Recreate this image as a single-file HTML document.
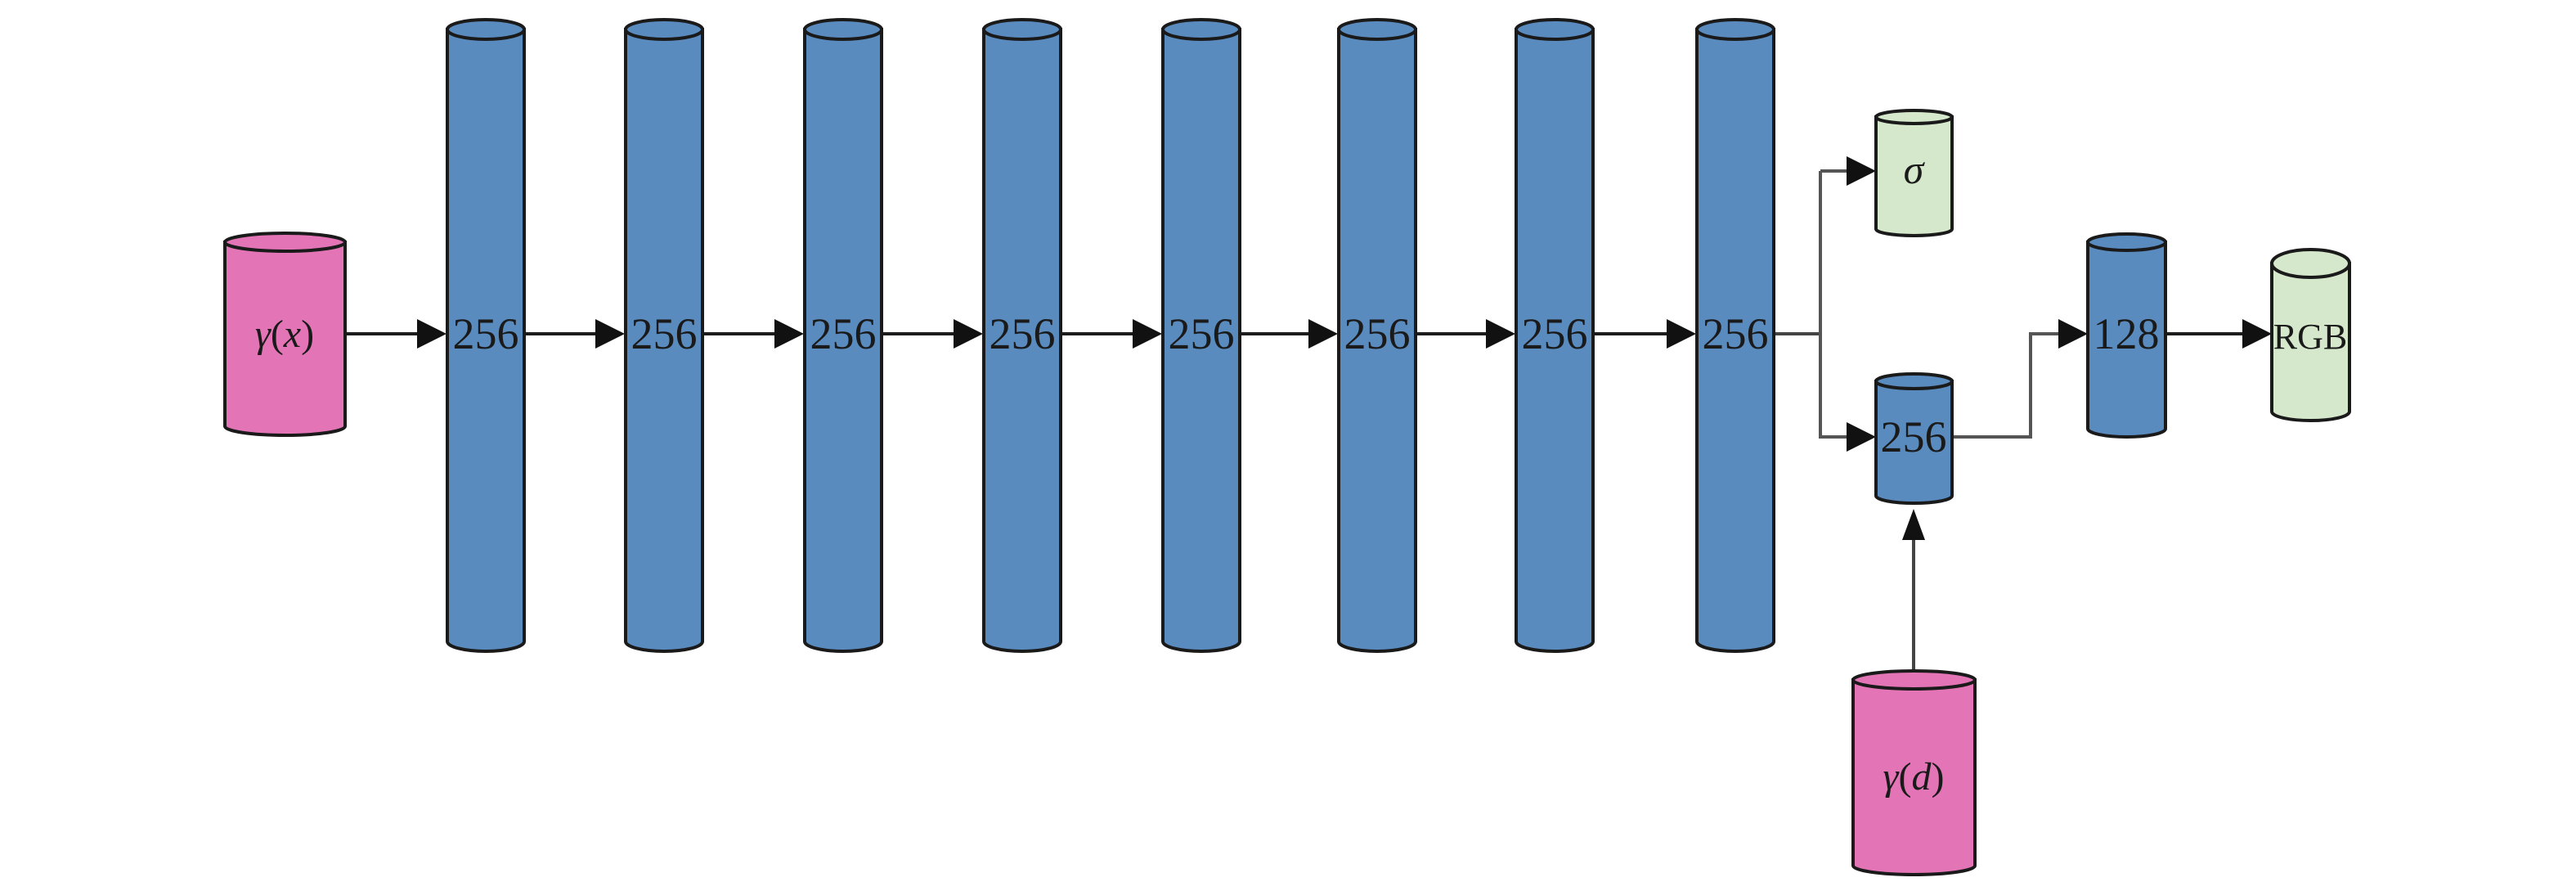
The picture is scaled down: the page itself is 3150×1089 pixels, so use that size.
<!DOCTYPE html>
<html><head><meta charset="utf-8"><style>
html,body{margin:0;padding:0;background:#fff;}
svg{display:block;}
text{font-family:"Liberation Serif",serif;fill:#1a1a1a;}
</style></head><body>
<svg width="3150" height="1089" viewBox="0 0 3150 1089" xmlns="http://www.w3.org/2000/svg">
<g stroke="#1c1c1c" stroke-width="4">
<line x1="422" y1="408" x2="510" y2="408"/>
<line x1="641" y1="408" x2="728" y2="408"/>
<line x1="859" y1="408" x2="947" y2="408"/>
<line x1="1078" y1="408" x2="1166" y2="408"/>
<line x1="1297" y1="408" x2="1385" y2="408"/>
<line x1="1516" y1="408" x2="1600" y2="408"/>
<line x1="1731" y1="408" x2="1817" y2="408"/>
<line x1="1948" y1="408" x2="2038" y2="408"/>
<polyline fill="none" stroke="#444" points="2169,408 2226,408"/>
<polyline fill="none" stroke="#555" points="2226,209 2226,534 2259,534"/>
<polyline fill="none" stroke="#555" points="2226,209 2259,209"/>
<polyline fill="none" stroke="#555" points="2387,534 2483,534 2483,408 2518,408"/>
<line x1="2648" y1="408" x2="2743" y2="408"/>
<line x1="2340" y1="820" x2="2340" y2="658" stroke="#444"/>
</g>
<g fill="#111">
<path d="M510,390 L546,408 L510,426 Z"/>
<path d="M728,390 L764,408 L728,426 Z"/>
<path d="M947,390 L983,408 L947,426 Z"/>
<path d="M1166,390 L1202,408 L1166,426 Z"/>
<path d="M1385,390 L1421,408 L1385,426 Z"/>
<path d="M1600,390 L1636,408 L1600,426 Z"/>
<path d="M1817,390 L1853,408 L1817,426 Z"/>
<path d="M2038,390 L2074,408 L2038,426 Z"/>
<path d="M2258,191 L2294,209 L2258,227 Z"/>
<path d="M2258,516 L2294,534 L2258,552 Z"/>
<path d="M2517,390 L2553,408 L2517,426 Z"/>
<path d="M2742,390 L2778,408 L2742,426 Z"/>
<path d="M2326,660 L2340,622 L2354,660 Z"/>
</g>
<g stroke="#1a1a1a" stroke-width="4">
<path d="M275,296 L275,521 A73.5,11 0 0 0 422,521 L422,296 Z" fill="#e375b6"/>
<ellipse cx="348.5" cy="296" rx="73.5" ry="11" fill="#e375b6"/>
<g fill="#5a8bbf">
<path d="M547,36 L547,784 A47,12 0 0 0 641,784 L641,36 Z"/><ellipse cx="594" cy="36" rx="47" ry="12"/>
<path d="M765,36 L765,784 A47,12 0 0 0 859,784 L859,36 Z"/><ellipse cx="812" cy="36" rx="47" ry="12"/>
<path d="M984,36 L984,784 A47,12 0 0 0 1078,784 L1078,36 Z"/><ellipse cx="1031" cy="36" rx="47" ry="12"/>
<path d="M1203,36 L1203,784 A47,12 0 0 0 1297,784 L1297,36 Z"/><ellipse cx="1250" cy="36" rx="47" ry="12"/>
<path d="M1422,36 L1422,784 A47,12 0 0 0 1516,784 L1516,36 Z"/><ellipse cx="1469" cy="36" rx="47" ry="12"/>
<path d="M1637,36 L1637,784 A47,12 0 0 0 1731,784 L1731,36 Z"/><ellipse cx="1684" cy="36" rx="47" ry="12"/>
<path d="M1854,36 L1854,784 A47,12 0 0 0 1948,784 L1948,36 Z"/><ellipse cx="1901" cy="36" rx="47" ry="12"/>
<path d="M2075,36 L2075,784 A47,12 0 0 0 2169,784 L2169,36 Z"/><ellipse cx="2122" cy="36" rx="47" ry="12"/>
<path d="M2294,466 L2294,606 A46.5,9 0 0 0 2387,606 L2387,466 Z"/><ellipse cx="2340.5" cy="466" rx="46.5" ry="9"/>
<path d="M2553,296 L2553,524 A47.5,10 0 0 0 2648,524 L2648,296 Z"/><ellipse cx="2600.5" cy="296" rx="47.5" ry="10"/>
</g>
<g fill="#d5e8cb">
<path d="M2294,143 L2294,280 A46.5,8 0 0 0 2387,280 L2387,143 Z"/><ellipse cx="2340.5" cy="143" rx="46.5" ry="8"/>
<path d="M2778,322 L2778,503 A47.5,11 0 0 0 2873,503 L2873,322 Z"/><ellipse cx="2825.5" cy="322" rx="47.5" ry="17"/>
</g>
<path d="M2266,831 L2266,1058 A74.5,11 0 0 0 2415,1058 L2415,831 Z" fill="#e375b6"/>
<ellipse cx="2340.5" cy="831" rx="74.5" ry="11" fill="#e375b6"/>
</g>
<g font-size="54" text-anchor="middle">
<text x="594" y="426">256</text>
<text x="812" y="426">256</text>
<text x="1031" y="426">256</text>
<text x="1250" y="426">256</text>
<text x="1469" y="426">256</text>
<text x="1684" y="426">256</text>
<text x="1901" y="426">256</text>
<text x="2122" y="426">256</text>
<text x="2340" y="552">256</text>
<text x="2600" y="426">128</text>
<text x="2825" y="426" font-size="44">RGB</text>
<text x="2340" y="224" font-style="italic" font-size="50">σ</text>
<text x="348" y="424" font-size="48"><tspan font-style="italic">γ</tspan>(<tspan font-style="italic">x</tspan>)</text>
<text x="2340" y="965" font-size="48"><tspan font-style="italic">γ</tspan>(<tspan font-style="italic">d</tspan>)</text>
</g>
</svg>
</body></html>
